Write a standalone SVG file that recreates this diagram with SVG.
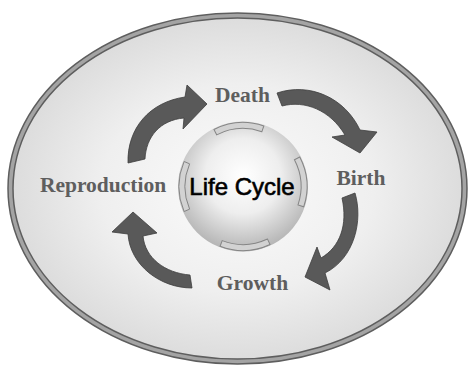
<svg xmlns="http://www.w3.org/2000/svg" xmlns:xlink="http://www.w3.org/1999/xlink" width="469" height="365" viewBox="0 0 469 365">
<defs>
<radialGradient id="bg" cx="0.5" cy="0.5" r="0.5">
<stop offset="0" stop-color="#fbfbfb"/>
<stop offset="0.6" stop-color="#efefef"/>
<stop offset="1" stop-color="#dcdcdc"/>
</radialGradient>
<radialGradient id="ball" cx="0.5" cy="0.42" r="0.58">
<stop offset="0" stop-color="#ffffff"/>
<stop offset="0.5" stop-color="#eeeeee"/>
<stop offset="1" stop-color="#b4b4b4"/>
</radialGradient>
<path id="seg" d="M -25,-58.9 A 64 64 0 0 1 25,-58.9 L 22.66,-53.39 A 58 58 0 0 0 -22.66,-53.39 Z"/>
</defs>
<style>
.lbl{font-family:"Liberation Serif","Times New Roman",serif;font-weight:bold;font-size:21.5px;fill:#5e5e5e;text-anchor:middle}
.arw{fill:#595959;stroke:#3e3e3e;stroke-width:0.8;stroke-linejoin:miter}
.seg{fill:#d2d2d2;stroke:#858585;stroke-width:1}
</style>
<rect width="469" height="365" fill="#ffffff"/>
<g id="frame">
<ellipse cx="237.5" cy="188.5" rx="227" ry="173" fill="url(#bg)" stroke="#5e5e5e" stroke-width="6.5"/>
<ellipse cx="237.5" cy="188.5" rx="227" ry="173" fill="none" stroke="#a4a4a4" stroke-width="3.5"/>
</g>
<g id="center">
<circle cx="243" cy="186.5" r="65" fill="url(#ball)"/>
<use xlink:href="#seg" class="seg" transform="translate(243,186.5) rotate(-4)"/>
<use xlink:href="#seg" class="seg" transform="translate(243,186.5) rotate(85.5)"/>
<use xlink:href="#seg" class="seg" transform="translate(243,186.5) rotate(178)"/>
<use xlink:href="#seg" class="seg" transform="translate(243,186.5) rotate(270)"/>
<text x="242" y="195" font-family="'Liberation Sans',Arial,sans-serif" font-size="24" fill="#000000" stroke="#000000" stroke-width="0.6" text-anchor="middle">Life Cycle</text>
</g>
<g id="death"><text class="lbl" x="242.5" y="102">Death</text></g>
<g id="birth"><text class="lbl" x="361" y="185">Birth</text></g>
<g id="growth"><text class="lbl" x="252.5" y="290">Growth</text></g>
<g id="reproduction"><text class="lbl" x="103" y="192">Reproduction</text></g>
<g id="connectors">
<path class="arw" d="M 128,163 C 127,128 150,102 185,97 L 187,85 L 207,104 L 183,129 L 184,118 C 160,120 146,137 145,159 Z"/>
<path class="arw" d="M 277,93 C 310,82 345,98 360,130 L 377,132 L 360,153 L 332,137 L 345,135 C 330,110 305,100 282,106 Z"/>
<path class="arw" d="M 355,193 C 363,220 355,258 325,273 L 330,290 L 305,277 L 317,247 L 321,258 C 340,247 348,225 342,198 Z"/>
<path class="arw" d="M 192,288 C 160,288 130,265 128,234 L 112,232 L 133,212 L 157,233 L 143,236 C 145,258 165,273 190,275 Z"/>
</g>
</svg>
